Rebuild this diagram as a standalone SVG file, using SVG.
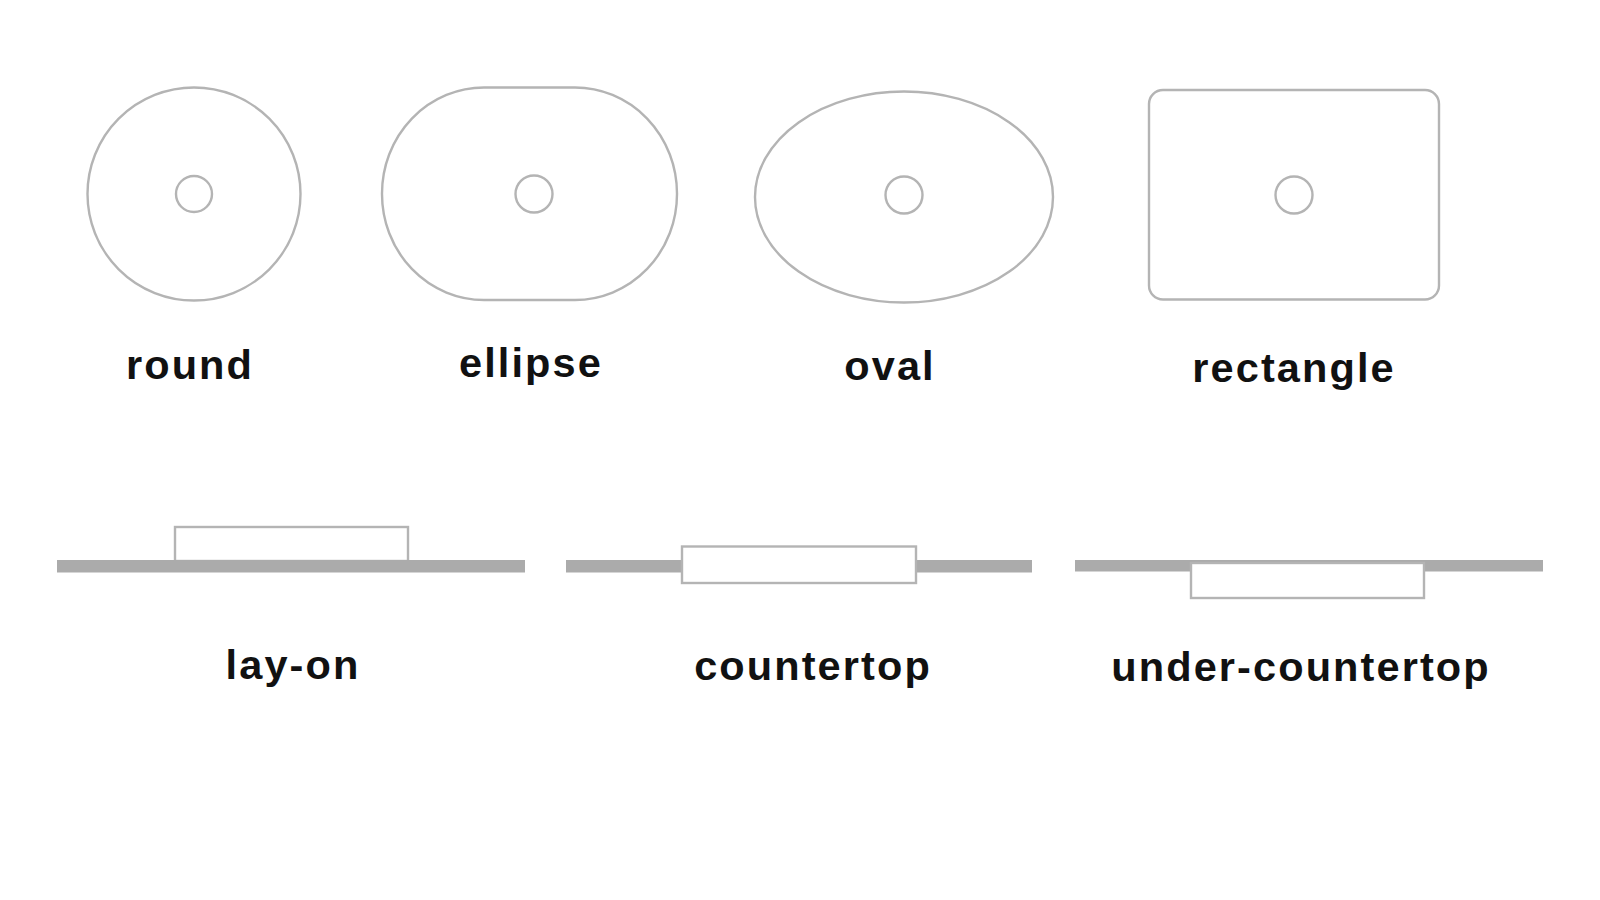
<svg xmlns="http://www.w3.org/2000/svg" width="1600" height="900" viewBox="0 0 1600 900">
  <style>
    .outline { fill: #ffffff; stroke: #b4b4b4; stroke-width: 2.4; }
    .bar { fill: #ababab; }
    .label { font-family: "Liberation Sans", Arial, sans-serif; font-weight: bold; font-size: 41.5px; letter-spacing: 2.1px; fill: #111111; text-anchor: middle; }
  </style>
  <rect width="1600" height="900" fill="#ffffff"/>

  <g id="round">
    <circle class="outline" cx="194" cy="194" r="106.5"/>
    <circle class="outline" cx="194" cy="194" r="18"/>
    <text class="label" x="190" y="379">round</text>
  </g>

  <g id="ellipse">
    <rect class="outline" x="382" y="87.5" width="295" height="212.5" rx="102" ry="106"/>
    <circle class="outline" cx="534" cy="194" r="18.5"/>
    <text class="label" x="531" y="377">ellipse</text>
  </g>

  <g id="oval">
    <ellipse class="outline" cx="904" cy="197" rx="149" ry="105.5"/>
    <circle class="outline" cx="904" cy="195" r="18.5"/>
    <text class="label" x="890" y="380">oval</text>
  </g>

  <g id="rectangle">
    <rect class="outline" x="1149" y="90" width="290" height="209.5" rx="14" ry="14"/>
    <circle class="outline" cx="1294" cy="195" r="18.5"/>
    <text class="label" x="1294" y="382">rectangle</text>
  </g>

  <g id="lay-on">
    <rect class="outline" x="175" y="527" width="233" height="34"/>
    <rect class="bar" x="57" y="560" width="468" height="12.5"/>
    <text class="label" x="293" y="679">lay-on</text>
  </g>

  <g id="countertop">
    <rect class="bar" x="566" y="560" width="466" height="12.5"/>
    <rect class="outline" x="682" y="546.5" width="234" height="36.5"/>
    <text class="label" x="813" y="680">countertop</text>
  </g>

  <g id="under-countertop">
    <rect class="bar" x="1075" y="560" width="468" height="11.5"/>
    <rect class="outline" x="1191" y="563" width="233" height="35"/>
    <text class="label" x="1301" y="681">under-countertop</text>
  </g>

  <g id="connectors"/>
</svg>
